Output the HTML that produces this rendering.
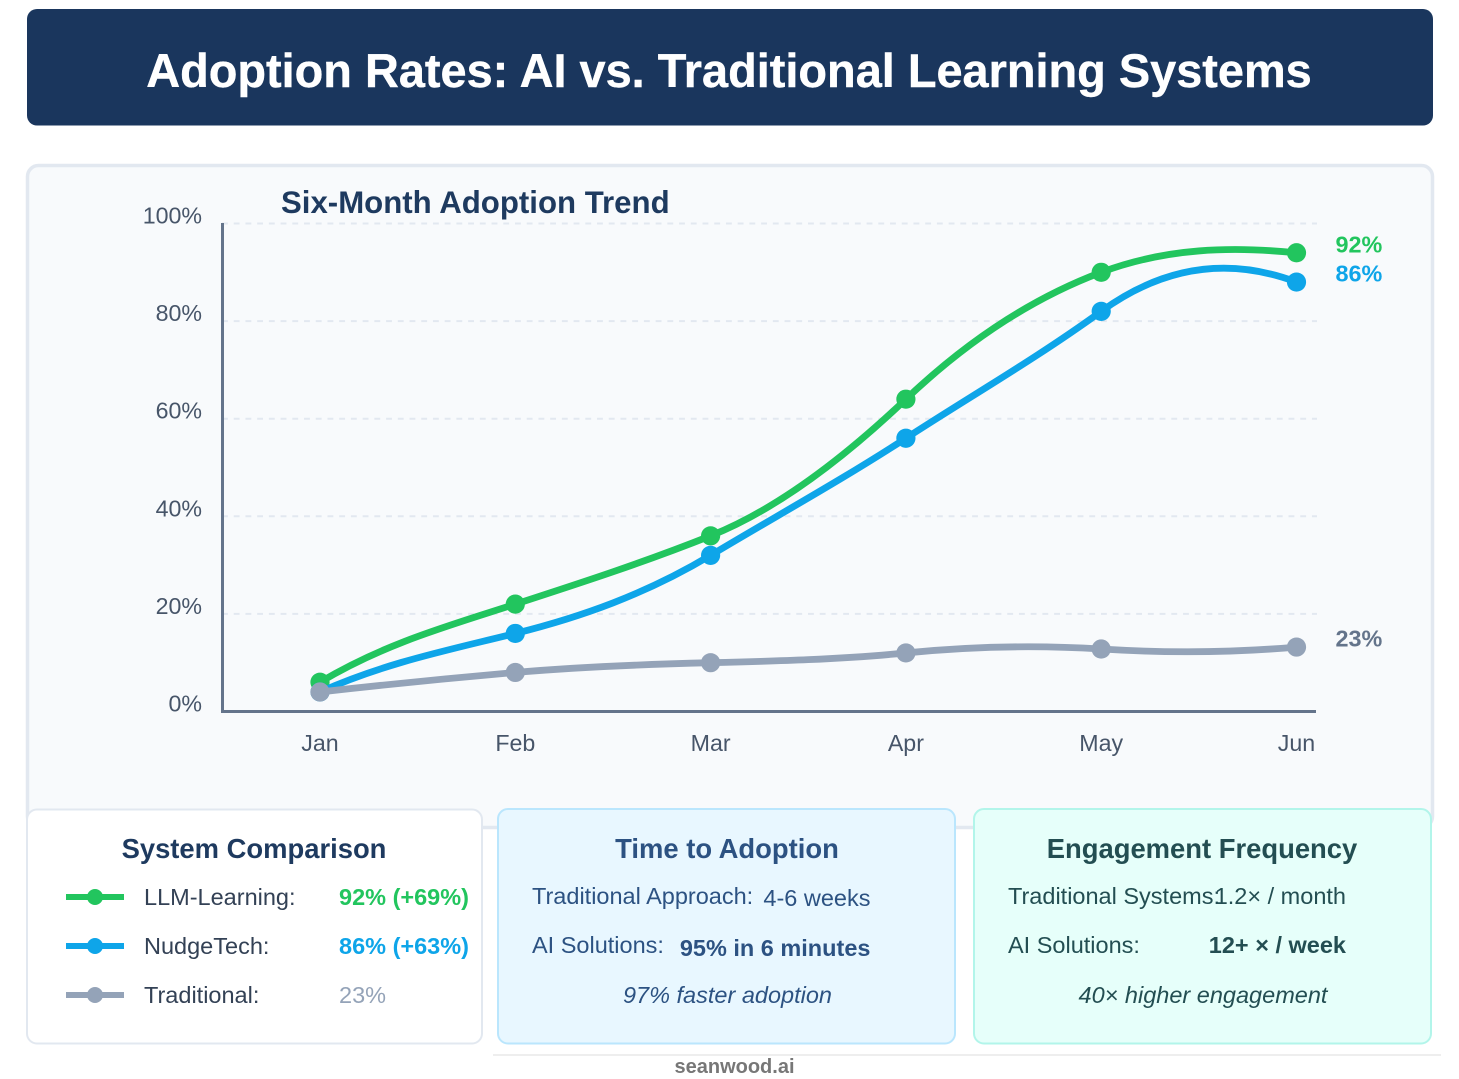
<!DOCTYPE html>
<html lang="en">
<head>
<meta charset="utf-8">
<title>Adoption Rates: AI vs. Traditional Learning Systems</title>
<style>
html,body{margin:0;padding:0;background:#fff;}
body{width:1459px;height:1079px;overflow:hidden;font-family:"Liberation Sans",Arial,sans-serif;}
svg{display:block;filter:blur(.35px);}
text{font-family:"Liberation Sans",Arial,sans-serif;}
</style>
</head>
<body>
<svg id="chart" xmlns="http://www.w3.org/2000/svg" width="1459" height="1079" viewBox="0 0 1459 1079">
  <rect x="27" y="9" width="1406" height="116.500" rx="10" fill="#1a365d"/>
  <text x="729" y="87" text-anchor="middle" font-size="46.900" font-weight="700" fill="#fff" stroke="#fff" stroke-width=".4">Adoption Rates: AI vs. Traditional Learning Systems</text>

  <rect x="27.500" y="165.500" width="1405" height="662" rx="11" fill="#f8fafc" stroke="#e2e8f0" stroke-width="3.500"/>
  <text x="281" y="213" font-size="31.200" font-weight="700" fill="#1e3a5f">Six-Month Adoption Trend</text>

  <g id="grid"></g>
  <g id="yticks"></g>
  <g id="xticks"></g>
  <line x1="222.500" y1="223" x2="222.500" y2="713" stroke="#64748b" stroke-width="3"/>
  <line x1="221" y1="711.500" x2="1316" y2="711.500" stroke="#64748b" stroke-width="3"/>
  <g id="series"></g>

  <g>
    <rect x="27" y="809.500" width="455" height="234" rx="10" fill="#fff" stroke="#e2e8f0" stroke-width="2"/>
    <text x="254" y="858" text-anchor="middle" font-size="27.400" font-weight="700" fill="#1e3a5f">System Comparison</text>

    <line x1="66" y1="897" x2="124" y2="897" stroke="#22c55e" stroke-width="6"/>
    <circle cx="95" cy="897" r="8" fill="#22c55e"/>
    <text x="144" y="905" font-size="23.500" fill="#334155">LLM-Learning:</text>
    <text x="339" y="905" font-size="23.500" font-weight="700" fill="#22c55e">92% (+69%)</text>

    <line x1="66" y1="946" x2="124" y2="946" stroke="#0ea5e9" stroke-width="6"/>
    <circle cx="95" cy="946" r="8" fill="#0ea5e9"/>
    <text x="144" y="954" font-size="23.500" fill="#334155">NudgeTech:</text>
    <text x="339" y="954" font-size="23.500" font-weight="700" fill="#0ea5e9">86% (+63%)</text>

    <line x1="66" y1="995" x2="124" y2="995" stroke="#94a3b8" stroke-width="6"/>
    <circle cx="95" cy="995" r="8" fill="#94a3b8"/>
    <text x="144" y="1003" font-size="23.500" fill="#334155">Traditional:</text>
    <text x="339" y="1003" font-size="23.500" fill="#94a3b8">23%</text>
  </g>

  <g>
    <rect x="498" y="809" width="457" height="234.500" rx="10" fill="#e8f7ff" stroke="#bae6fd" stroke-width="2"/>
    <text x="727" y="858" text-anchor="middle" font-size="27.400" font-weight="700" fill="#2c5282">Time to Adoption</text>
    <text x="532" y="904" font-size="23.500" fill="#2c5282">Traditional Approach:</text>
    <text x="870.500" y="906" text-anchor="end" font-size="23.500" fill="#2c5282">4-6 weeks</text>
    <text x="532" y="953" font-size="23.500" fill="#2c5282">AI Solutions:</text>
    <text x="870.500" y="956" text-anchor="end" font-size="23.500" font-weight="700" fill="#2c5282">95% in 6 minutes</text>
    <text x="727.500" y="1003" text-anchor="middle" font-size="23.500" font-style="italic" fill="#2c5282">97% faster adoption</text>
  </g>

  <g>
    <rect x="974" y="809" width="457" height="234.500" rx="10" fill="#e6fffa" stroke="#b2f5ea" stroke-width="2"/>
    <text x="1202" y="858" text-anchor="middle" font-size="27.400" font-weight="700" fill="#234e52">Engagement Frequency</text>
    <text x="1008" y="904" font-size="23.500" fill="#234e52">Traditional Systems:</text>
    <text x="1346" y="904" text-anchor="end" font-size="23.500" fill="#234e52">1.2× / month</text>
    <text x="1008" y="953" font-size="23.500" fill="#234e52">AI Solutions:</text>
    <text x="1346" y="953" text-anchor="end" font-size="23.500" font-weight="700" fill="#234e52">12+ × / week</text>
    <text x="1203" y="1003" text-anchor="middle" font-size="23.500" font-style="italic" fill="#234e52">40× higher engagement</text>
  </g>

  <line x1="493" y1="1055" x2="1441" y2="1055" stroke="#eeeeee" stroke-width="2"/>
  <text x="734.500" y="1073" text-anchor="middle" font-size="20" font-weight="700" fill="#777777">seanwood.ai</text>
</svg>
<script>
const months = ['Jan', 'Feb', 'Mar', 'Apr', 'May', 'Jun'];
const yTicks = [0, 20, 40, 60, 80, 100];
const llmValues = [6, 22, 36, 64, 90, 94];
const nudgeValues = [4, 16, 32, 56, 82, 88];
const traditionalValues = [4, 8, 10, 12, 12.8, 13.2];
const llmSlopes = [24, 13, 16, 38, 15, -4];
const nudgeSlopes = [18, 10, 24, 26, 29, -15];
const traditionalSlopes = [4.5, 3.5, 1, 4, -2.5, 3.5];
const endLabels = ['92%', '86%', '23%'];

const NS = 'http://www.w3.org/2000/svg';
const xAt = function (i) { return 320 + i * (1296.5 - 320) / (months.length - 1); };
const yAt = function (v) { return 711.5 - v * 4.88; };

function svgEl(tag, attrs, parent) {
  const el = document.createElementNS(NS, tag);
  Object.keys(attrs).forEach(function (k) { el.setAttribute(k, attrs[k]); });
  parent.appendChild(el);
  return el;
}

const gridGroup = document.getElementById('grid');
const yGroup = document.getElementById('yticks');
const xGroup = document.getElementById('xticks');
const seriesGroup = document.getElementById('series');

yTicks.forEach(function (t) {
  if (t > 0) {
    const g = svgEl('line', { x1: 222, x2: 1317, y1: yAt(t), y2: yAt(t), stroke: '#e2e8f0', 'stroke-width': 2, 'stroke-dasharray': '5.86 5.86' }, gridGroup);
    
    
  }
  const lab = svgEl('text', { x: 202, y: yAt(t), 'text-anchor': 'end', 'font-size': 23.2, fill: '#475569' }, yGroup);
  lab.textContent = t + '%';
  
  
});

months.forEach(function (m, i) {
  const lab = svgEl('text', { x: xAt(i), y: 751, 'text-anchor': 'middle', 'font-size': 23.2, fill: '#475569' }, xGroup);
  lab.textContent = m;
  
  
});

function curvePath(values, slopes) {
  let d = 'M' + xAt(0) + ',' + yAt(values[0]);
  for (let i = 0; i < values.length - 1; i++) {
    const x0 = xAt(i), x1 = xAt(i + 1), third = (x1 - x0) / 3;
    d += ' C' + (x0 + third) + ',' + yAt(values[i] + slopes[i] / 3) +
         ' ' + (x1 - third) + ',' + yAt(values[i + 1] - slopes[i + 1] / 3) +
         ' ' + x1 + ',' + yAt(values[i + 1]);
  }
  return d;
}

function drawSeries(key, values, slopes, color, labelText, labelColor) {
  const g = svgEl('g', {}, seriesGroup);
  
  

  const line = svgEl('path', { d: curvePath(values, slopes), fill: 'none', stroke: color, 'stroke-width': 6.8, 'stroke-linecap': 'round' }, g);
  
  

  values.forEach(function (v, i) {
    const dot = svgEl('circle', { cx: xAt(i), cy: yAt(v), r: 9.6, fill: color }, g);
    
    
  });

  const last = values[values.length - 1];
  const lab = svgEl('text', { x: 1335.5, y: yAt(last) - 0.5, 'font-size': 23.4, 'font-weight': 700, fill: labelColor }, g);
  lab.textContent = labelText;
  
  
}

drawSeries('llm-learning', llmValues, llmSlopes, '#22c55e', endLabels[0], '#22c55e');
drawSeries('nudgetech', nudgeValues, nudgeSlopes, '#0ea5e9', endLabels[1], '#0ea5e9');
drawSeries('traditional', traditionalValues, traditionalSlopes, '#94a3b8', endLabels[2], '#64748b');
</script>
</body>
</html>
